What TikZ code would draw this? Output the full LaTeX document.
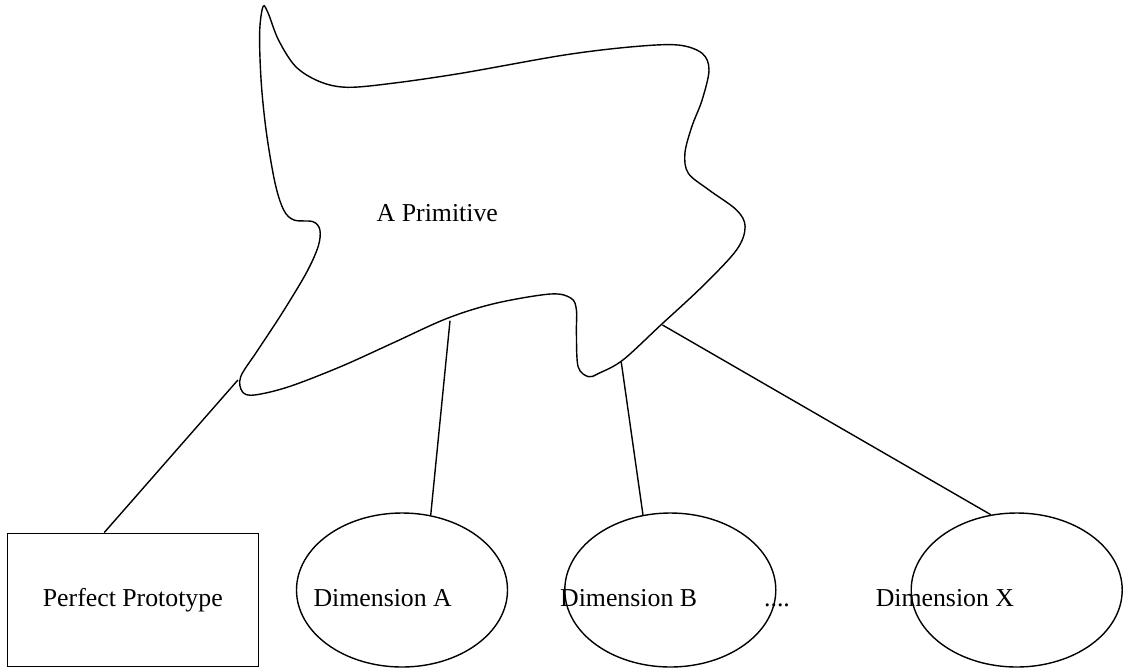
\documentclass[tikz,border=0pt]{standalone}
\usepackage{fontspec}
\setmainfont{Liberation Serif}
\usetikzlibrary{shapes.geometric,calc}
\begin{document}
\begin{tikzpicture}[x=1pt,y=-1pt,line width=1.4pt,
  box/.style={draw, rectangle, minimum width=251pt, minimum height=133.4pt, inner sep=0pt},
  dim/.style={draw, ellipse, minimum width=211pt, minimum height=154pt, inner sep=0pt},
  lbl/.style={anchor=base, inner sep=0pt, font=\fontsize{25.8}{30}\selectfont},
  link/.style={draw, line width=1.4pt}]
\useasboundingbox (0,0) rectangle (1123,670);

% irregular cloud holding the primitive
\draw plot[smooth cycle, tension=0.55] coordinates {
  (263.0,6.7) (259.6,33.3) (261.3,83.3) (266.5,133.3) (275.1,183.3)
  (283.7,210) (294.0,220) (313.0,221.7) (319.9,230) (318.1,246.7)
  (306.1,273.3) (282.0,313.3) (257.9,350) (240.7,376.7) (242.4,391.7)
  (254.4,395) (288.9,386.7) (340.5,366.7) (392.2,343.3) (447.3,318.3)
  (495.5,303.3) (550.6,294) (571.2,298.3) (576.4,310) (576.4,333.3)
  (578.1,366.7) (588.5,376.7) (598.8,373.3) (622.9,360) (660.8,325)
  (702.1,286.7) (736.5,250) (745.1,226.7) (736.5,210) (709.0,190)
  (688.3,173.3) (684.9,153.3) (691.8,126.7) (702.1,100) (709.0,70)
  (702.1,53.3) (678.0,45) (633.2,46.7) (564.4,55) (461.0,73.3)
  (392.2,83.3) (347.4,87.3) (319.9,81.7) (295.8,66.7) (278.5,40)
  (268.2,13.3)};
\node[lbl] (prim) at (437.3,221.7) {A Primitive};

% attachment points on the cloud outline
\coordinate (cP) at (237.9,380);
\coordinate (cA) at (450.0,320.7);
\coordinate (cB) at (621.2,361.7);
\coordinate (cX) at (662.5,325);

% bottom row
\node[box] (proto) at (132.8,600) {};
\node[dim] (dimA) at (402,590) {};
\node[dim] (dimB) at (670.3,590) {};
\node[dim] (dimX) at (1016.7,590) {};

\node[lbl] (tproto) at (132.8,606) {Perfect Prototype};
\node[lbl] (tA) at (382.7,606) {Dimension A};
\node[lbl] (tB) at (628.6,606) {Dimension B};
\node[lbl] (tdots) at (777,606) {....};
\node[lbl] (tX) at (944.9,606) {Dimension X};

% connectors
\draw[link] (cP) -- (proto.113.3);
\draw[link] (cA) -- (dimA.69.8);
\draw[link] (cB) -- (dimB.110.9);
\draw[link] (cX) -- (dimX.109.8);
\end{tikzpicture}
\end{document}
